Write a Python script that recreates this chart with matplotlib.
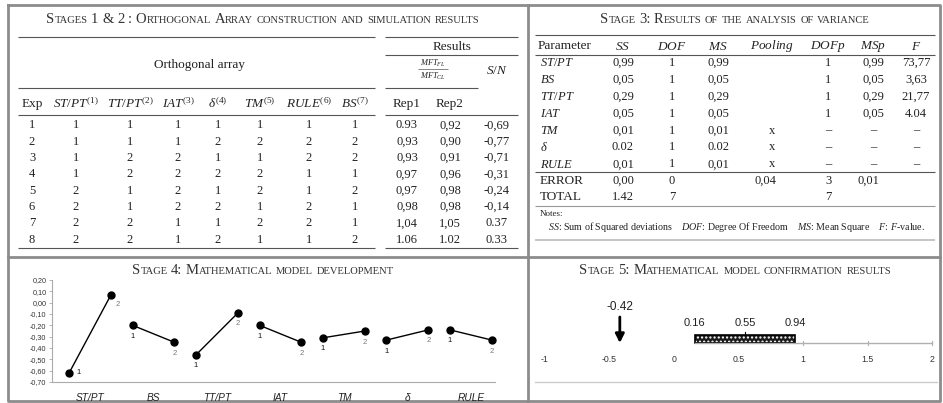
import numpy as np
import matplotlib
matplotlib.use("Agg")
import matplotlib.pyplot as plt
from matplotlib.patches import Rectangle

plt.rcParams['mathtext.fontset'] = 'custom'
plt.rcParams['mathtext.it'] = 'Liberation Serif:italic'
plt.rcParams['mathtext.rm'] = 'Liberation Serif'
plt.rcParams['mathtext.bf'] = 'Liberation Serif:bold'

# ---------------- data ----------------
oa_headers = [r"$ST/PT^{(1)}$", r"$TT/PT^{(2)}$", r"$IAT^{(3)}$", r"$\delta^{(4)}$",
              r"$TM^{(5)}$", r"$RULE^{(6)}$", r"$BS^{(7)}$"]
exp_ids = [1, 2, 3, 4, 5, 6, 7, 8]
oa_levels = [
    [1, 1, 1, 1, 1, 1, 1],
    [1, 1, 1, 2, 2, 2, 2],
    [1, 2, 2, 1, 1, 2, 2],
    [1, 2, 2, 2, 2, 1, 1],
    [2, 1, 2, 1, 2, 1, 2],
    [2, 1, 2, 2, 1, 2, 1],
    [2, 2, 1, 1, 2, 2, 1],
    [2, 2, 1, 2, 1, 1, 2],
]
rep1 = ["0.93", "0,93", "0,93", "0,97", "0,97", "0,98", "1,04", "1.06"]
rep2 = ["0,92", "0,90", "0,91", "0,96", "0,98", "0,98", "1,05", "1.02"]
sn = ["-0,69", "-0,77", "-0,71", "-0,31", "-0,24", "-0,14", "0.37", "0.33"]

anova_params = [r"$ST/PT$", r"$BS$", r"$TT/PT$", r"$IAT$", r"$TM$", r"$\delta$", r"$RULE$"]
anova_ss = ["0,99", "0,05", "0,29", "0,05", "0,01", "0.02", "0,01"]
anova_dof = ["1", "1", "1", "1", "1", "1", "1"]
anova_ms = ["0,99", "0,05", "0,29", "0,05", "0,01", "0.02", "0,01"]
anova_pool = ["", "", "", "", "x", "x", "x"]
anova_dofp = ["1", "1", "1", "1", "–", "–", "–"]
anova_msp = ["0,99", "0,05", "0,29", "0,05", "–", "–", "–"]
anova_f = ["73,77", "3,63", "21,77", "4.04", "–", "–", "–"]
error_row = ["ERROR", "0,00", "0", "", "0,04", "3", "0,01", ""]
total_row = ["TOTAL", "1.42", "7", "", "", "7", "", ""]

effect_factors = ["ST/PT", "BS", "TT/PT", "IAT", "TM", "δ", "RULE"]
effect_level1 = [-0.62, -0.20, -0.46, -0.20, -0.31, -0.33, -0.24]
effect_level2 = [0.07, -0.35, -0.09, -0.35, -0.25, -0.24, -0.33]
effect_yticks = [0.20, 0.10, 0.00, -0.10, -0.20, -0.30, -0.40, -0.50, -0.60, -0.70]

conf_ticks = [-1, -0.5, 0, 0.5, 1, 1.5, 2]
conf_low, conf_mid, conf_high = 0.16, 0.55, 0.94
conf_pred = -0.42

# ---------------- figure ----------------
W, H = 943, 403
fig = plt.figure(figsize=(W / 100, H / 100), dpi=100)
bg = fig.add_axes([0, 0, 1, 1])
bg.set_xlim(0, W)
bg.set_ylim(H, 0)
bg.axis('off')
renderer = fig.canvas.get_renderer()

SERIF = 'Liberation Serif'
SANS = 'Liberation Sans'
TXT = '#222222'
BODY = 9
HEAD = 9.5


def px_axes(left, top, right, bottom):
    return fig.add_axes([left / W, 1 - bottom / H, (right - left) / W, (bottom - top) / H])


def hline(y, x0, x1, color='#555555', lw=0.8):
    bg.plot([x0, x1], [y, y], color=color, lw=lw, solid_capstyle='butt')


def smallcaps(xc, y, s, big=10.5, small=7.6, color='#333333'):
    words = s.split(' ')
    pieces = []
    total = 0.0
    space = big * 0.25 * 100 / 72
    for wi, word in enumerate(words):
        runs = []
        for ch in word:
            if ch.islower():
                t, sz = ch.upper(), small
            else:
                t, sz = ch, big
            if runs and runs[-1][1] == sz:
                runs[-1][0] += t
            else:
                runs.append([t, sz])
        for t, sz in runs:
            tx = bg.text(0, y, t, fontsize=sz, family=SERIF, color=color,
                         ha='left', va='baseline')
            w = tx.get_window_extent(renderer).width
            pieces.append((tx, w, 0.0))
            total += w
        if wi < len(words) - 1:
            pieces.append((None, 0, space))
            total += space
    x = xc - total / 2
    for tx, w, sp in pieces:
        if tx is None:
            x += sp
        else:
            tx.set_x(x)
            x += w


# ---------------- frame ----------------
FR = '#8c8c8c'
bg.plot([8, 940, 940, 8, 8], [5, 5, 401, 401, 5], color=FR, lw=2)
bg.plot([528, 528], [5, 401], color=FR, lw=2)
bg.plot([8, 940], [257, 257], color=FR, lw=2)

# ---------------- Stages 1 & 2 ----------------
smallcaps(263, 23, "Stages 1 & 2 : Orthogonal Array construction and simulation results")
hline(37, 18, 375)
hline(37, 385, 518)
bg.text(452, 47, "Results", fontsize=HEAD, family=SERIF, color=TXT, ha='center', va='center')
hline(55, 385, 518)
bg.text(200, 65, "Orthogonal array", fontsize=HEAD, family=SERIF, color=TXT, ha='center', va='center')
bg.text(433, 63, r"$MFT_{FL}$", fontsize=6, color=TXT, ha='center', va='center')
hline(69, 418, 448, lw=0.5)
bg.text(433, 76, r"$MFT_{CL}$", fontsize=6, color=TXT, ha='center', va='center')
bg.text(497, 70, r"$S/N$", fontsize=HEAD, color=TXT, ha='center', va='center')
hline(88, 18, 375)
hline(88, 385, 478)

col_x = [76, 130, 178, 218, 260, 309, 355]
exp_x = 32
rep1_x, rep2_x, sn_x = 407, 450, 497
head_y = 104
bg.text(exp_x, head_y, "Exp", fontsize=HEAD, family=SERIF, color=TXT, ha='center', va='center')
for x, h in zip(col_x, oa_headers):
    bg.text(x, head_y, h, fontsize=HEAD, color=TXT, ha='center', va='center')
bg.text(rep1_x, head_y, "Rep1", fontsize=HEAD, family=SERIF, color=TXT, ha='center', va='center')
bg.text(rep2_x, head_y, "Rep2", fontsize=HEAD, family=SERIF, color=TXT, ha='center', va='center')
hline(115, 18, 375)
hline(115, 385, 518)

for i, e in enumerate(exp_ids):
    y = 125.5 + i * 16.3
    bg.text(exp_x, y, str(e), fontsize=BODY, family=SERIF, color=TXT, ha='center', va='center')
    for x, v in zip(col_x, oa_levels[i]):
        bg.text(x, y, str(v), fontsize=BODY, family=SERIF, color=TXT, ha='center', va='center')
    bg.text(rep1_x, y, rep1[i], fontsize=BODY, family=SERIF, color=TXT, ha='center', va='center')
    bg.text(rep2_x, y, rep2[i], fontsize=BODY, family=SERIF, color=TXT, ha='center', va='center')
    bg.text(sn_x, y, sn[i], fontsize=BODY, family=SERIF, color=TXT, ha='center', va='center')
hline(248, 18, 375)
hline(248, 385, 518)

# ---------------- Stage 3 ----------------
smallcaps(735, 23, "Stage 3: Results of the analysis of variance")
hline(35, 535, 935)
a_cols = [565, 623, 672, 718, 772, 828, 873, 916]
a_heads = ["Parameter", r"$SS$", r"$DOF$", r"$MS$", r"$Pooling$", r"$DOFp$", r"$MSp$", r"$F$"]
for x, h in zip(a_cols, a_heads):
    if h == "Parameter":
        bg.text(x, 46, h, fontsize=HEAD, family=SERIF, color=TXT, ha='center', va='center')
    else:
        bg.text(x, 46, h, fontsize=HEAD, color=TXT, ha='center', va='center')
hline(55, 535, 935)
for i, p in enumerate(anova_params):
    y = 63 + i * 16.9
    bg.text(540, y, p, fontsize=BODY, color=TXT, ha='left', va='center')
    vals = [anova_ss[i], anova_dof[i], anova_ms[i], anova_pool[i], anova_dofp[i], anova_msp[i], anova_f[i]]
    for x, v in zip(a_cols[1:], vals):
        bg.text(x, y, v, fontsize=BODY, family=SERIF, color=TXT, ha='center', va='center')
hline(172, 535, 935)
for y, row in ((181, error_row), (197, total_row)):
    bg.text(540, y, row[0], fontsize=9.5, family=SERIF, color=TXT, ha='left', va='center')
    xs = [623, 672, 718, 765, 828, 868, 916]
    for x, v in zip(xs, row[1:]):
        bg.text(x, y, v, fontsize=BODY, family=SERIF, color=TXT, ha='center', va='center')
hline(206, 535, 935, color='#999999')
bg.text(540, 214, "Notes:", fontsize=6.5, family=SERIF, color=TXT, ha='left', va='center')
bg.text(548, 227, r"$SS$: Sum of Squared deviations    $DOF$: Degree Of Freedom    $MS$: Mean Square    $F$: $F$-value.",
        fontsize=7.2, family=SERIF, color=TXT, ha='left', va='center')
hline(240, 535, 935, color='#bbbbbb', lw=1.2)

# ---------------- Stage 4 ----------------
smallcaps(263, 274, "Stage 4: Mathematical model development")
ax4 = px_axes(52, 280, 495, 382)
gx = np.arange(len(effect_factors))
for g in gx:
    xs = [g - 0.33, g + 0.33]
    ys = [effect_level1[g], effect_level2[g]]
    ax4.plot(xs, ys, color='black', lw=1, marker='o', ms=5, clip_on=False)
    if g == 0:
        ax4.annotate("1", (xs[0], ys[0]), xytext=(5, 0), textcoords='offset points',
                     fontsize=5.5, family=SANS, color='#111111', ha='left', va='center')
        ax4.annotate("2", (xs[1], ys[1]), xytext=(3, -7), textcoords='offset points',
                     fontsize=5.5, family=SANS, color='#777777', ha='left', va='center')
    else:
        ax4.annotate("1", (xs[0], ys[0]), xytext=(0, -8), textcoords='offset points',
                     fontsize=5.5, family=SANS, color='#111111', ha='center', va='center')
        ax4.annotate("2", (xs[1], ys[1]), xytext=(0, -8), textcoords='offset points',
                     fontsize=5.5, family=SANS, color='#777777', ha='center', va='center')
ax4.set_xlim(-0.6, 6.38)
ax4.set_ylim(-0.70, 0.20)
ax4.set_yticks(effect_yticks)
ax4.set_yticklabels([f"{v:.2f}".replace('.', ',') if v != 0 else "0,00" for v in effect_yticks],
                    fontsize=5.2, family=SANS, color='#333333')
ax4.set_xticks(gx)
ax4.set_xticklabels(effect_factors, fontsize=7.3, family=SANS, style='italic', color='#222222')
ax4.tick_params(axis='x', length=0, pad=8)
ax4.tick_params(axis='y', length=2, width=0.5, color='#999999', pad=2)
for s in ('top', 'right'):
    ax4.spines[s].set_visible(False)
for s in ('left', 'bottom'):
    ax4.spines[s].set_color('#aaaaaa')
    ax4.spines[s].set_linewidth(0.8)
ax4.patch.set_alpha(0)

# ---------------- Stage 5 ----------------
smallcaps(735, 274, "Stage 5: Mathematical model confirmation results")
ax5 = px_axes(530, 295, 943, 370)
ax5.set_xlim(-1 - 15 / 129, 2 + 11 / 129)
ax5.set_ylim(-27, 48)
ax5.axis('off')
ax5.plot([conf_low, conf_ticks[-1]], [0, 0], color='#b0b0b0', lw=1)
for t in conf_ticks:
    if t >= 1:
        ax5.plot([t, t], [-2, 2], color='#b0b0b0', lw=0.8)
    lab = f"{t:g}"
    ax5.text(t, -16, lab, fontsize=6.3, family=SANS, color='#333333', ha='center', va='center')
ax5.add_patch(Rectangle((conf_low, 0), conf_high - conf_low, 8, facecolor='#1a1a1a',
                        edgecolor='white', hatch='....', lw=0))
ax5.add_patch(Rectangle((conf_low, 0), conf_high - conf_low, 8, facecolor='none',
                        edgecolor='black', lw=1.2))
ax5.plot([conf_mid, conf_mid], [8, 11], color='black', lw=0.8)
for v in (conf_low, conf_mid, conf_high):
    ax5.text(v, 20, f"{v:.2f}", fontsize=8, family=SANS, color='#222222', ha='center', va='center')
ax5.annotate('', xy=(conf_pred, 0), xytext=(conf_pred, 26),
             arrowprops=dict(arrowstyle='-|>', color='black', lw=2, mutation_scale=13,
                             shrinkA=0, shrinkB=0))
ax5.text(conf_pred, 36, f"{conf_pred:.2f}", fontsize=8.5, family=SANS, color='#222222',
         ha='center', va='center')
bg.plot([535, 937], [382, 382], color='#cccccc', lw=1)

fig.savefig("out.png", dpi=100)
